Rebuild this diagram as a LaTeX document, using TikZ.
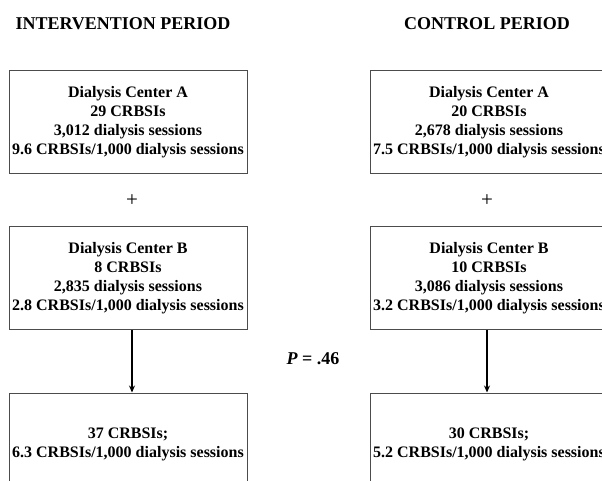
\documentclass[tikz,border=0pt]{standalone}
\usepackage{fontspec}
\setmainfont{Liberation Serif}
\usetikzlibrary{arrows.meta}
\begin{document}
\begin{tikzpicture}[x=1pt,y=-1pt,
  box/.style={draw=black!70, line width=1pt, minimum width=238pt, minimum height=103pt,
    align=center, inner sep=0pt, font=\bfseries\fontsize{16}{19}\selectfont},
  ttl/.style={inner sep=0pt, font=\bfseries\fontsize{18}{21}\selectfont},
  plus/.style={inner sep=0pt, font=\fontsize{21}{24}\selectfont},
  arr/.style={line width=1.8pt, -{Stealth[length=7pt,width=6pt]}},
]
\useasboundingbox (0,0) rectangle (602,481);
\clip (0,0) rectangle (602,481);

\node[ttl] (t1) at (123,24) {INTERVENTION PERIOD};
\node[ttl] (t2) at (487,24) {CONTROL PERIOD};

\node[box] (a1) at (128,122.5) {Dialysis Center A\\29 CRBSIs\\3,012 dialysis sessions\\9.6 CRBSIs/1,000 dialysis sessions};
\node[plus] (p1) at (132,200.5) {+};
\node[box] (b1) at (128,278) {Dialysis Center B\\8 CRBSIs\\2,835 dialysis sessions\\2.8 CRBSIs/1,000 dialysis sessions};
\node[box] (c1) at (128,444.5) {37 CRBSIs;\\6.3 CRBSIs/1,000 dialysis sessions};

\node[box] (a2) at (489,122.5) {Dialysis Center A\\20 CRBSIs\\2,678 dialysis sessions\\7.5 CRBSIs/1,000 dialysis sessions};
\node[plus] (p2) at (487,200.5) {+};
\node[box] (b2) at (489,278) {Dialysis Center B\\10 CRBSIs\\3,086 dialysis sessions\\3.2 CRBSIs/1,000 dialysis sessions};
\node[box] (c2) at (489,444.5) {30 CRBSIs;\\5.2 CRBSIs/1,000 dialysis sessions};

\node[ttl] (pv) at (313,359) {\textit{P} = .46};

\coordinate (x1) at (132,0);
\coordinate (x2) at (487,0);
\draw[arr] (b1.south -| x1) -- (c1.north -| x1);
\draw[arr] (b2.south -| x2) -- (c2.north -| x2);
\end{tikzpicture}
\end{document}
